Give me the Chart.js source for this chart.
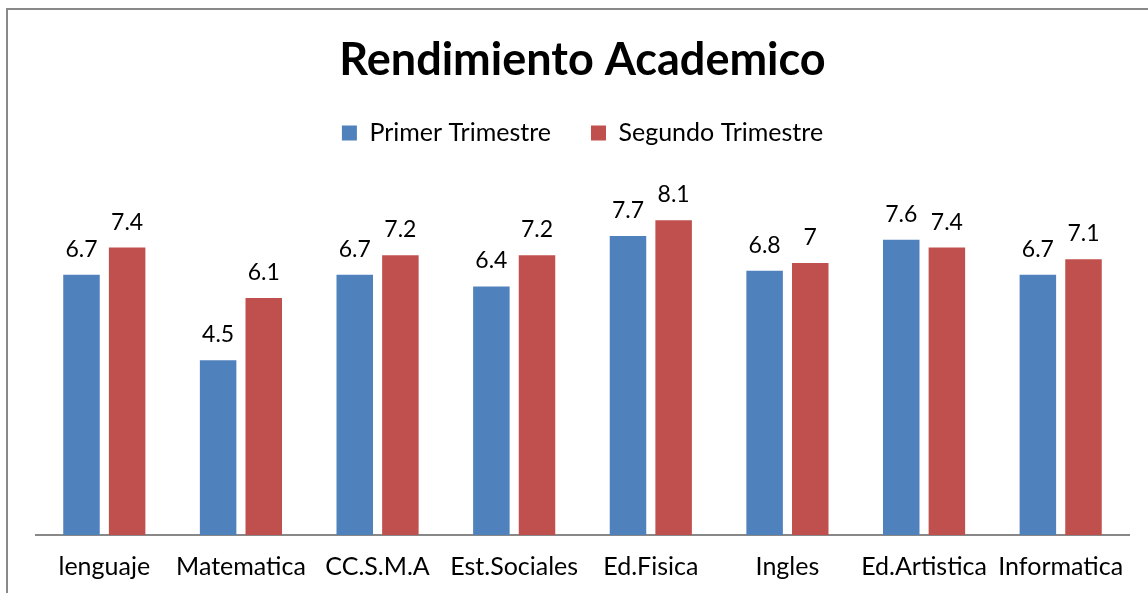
<!DOCTYPE html>
<html>
<head>
<meta charset="utf-8">
<script src="https://cdn.jsdelivr.net/npm/chart.js@4"></script>
<style>
html,body{margin:0;padding:0;background:#fff;width:1148px;height:593px;overflow:hidden;}
#frame{position:absolute;left:6px;top:8px;width:1160px;height:620px;border:2px solid #898989;box-sizing:border-box;}
#c{position:absolute;left:0;top:0;}
</style>
</head>
<body>
<div id="frame"></div>
<canvas id="c" width="1148" height="593"></canvas>
<script>
const categories = ["lenguaje","Matematica","CC.S.M.A","Est.Sociales","Ed.Fisica","Ingles","Ed.Artistica","Informatica"];
const primerTrimestre = [6.7, 4.5, 6.7, 6.4, 7.7, 6.8, 7.6, 6.7];
const segundoTrimestre = [7.4, 6.1, 7.2, 7.2, 8.1, 7, 7.4, 7.1];
const seriesNames = ["Primer Trimestre","Segundo Trimestre"];
const titleText = "Rendimiento Academico";

const FONT = "Lato, 'Open Sans', sans-serif";

const dataLabels = {
  id: 'dataLabels',
  afterDatasetsDraw(chart) {
    const ctx = chart.ctx;
    ctx.save();
    ctx.font = "23px " + FONT;
    ctx.fillStyle = "#000";
    ctx.textAlign = "center";
    ctx.textBaseline = "alphabetic";
    chart.data.datasets.forEach((ds, i) => {
      chart.getDatasetMeta(i).data.forEach((bar, j) => {
        ctx.fillText(String(ds.data[j]), bar.x, bar.y - 18);
      });
    });
    ctx.restore();
  }
};

new Chart(document.getElementById('c'), {
  type: 'bar',
  data: {
    labels: categories,
    datasets: [
      { label: seriesNames[0], data: primerTrimestre, backgroundColor: '#4F81BD', categoryPercentage: 0.668, barPercentage: 0.8 },
      { label: seriesNames[1], data: segundoTrimestre, backgroundColor: '#C0504D', categoryPercentage: 0.668, barPercentage: 0.8 }
    ]
  },
  options: {
    responsive: false,
    animation: false,
    layout: { padding: { left: 36, right: 19, top: 0, bottom: -6 } },
    plugins: {
      title: {
        display: true, text: titleText, color: '#000',
        font: { family: FONT, size: 45, weight: 'bold', lineHeight: 0.9 },
        padding: { top: 40, bottom: 0 }
      },
      legend: {
        display: true,
        labels: {
          color: '#000', boxWidth: 15, boxHeight: 15, padding: 40,
          font: { family: FONT, size: 25 }
        }
      },
      tooltip: { enabled: false }
    },
    scales: {
      x: {
        grid: { display: false, drawTicks: false },
        border: { display: true, color: '#888888', width: 2 },
        ticks: { color: '#000', font: { family: FONT, size: 25 }, padding: 17, maxRotation: 0, autoSkip: false }
      },
      y: {
        display: false,
        min: 0, max: 9.77
      }
    }
  },
  plugins: [dataLabels]
});
</script>
</body>
</html>
